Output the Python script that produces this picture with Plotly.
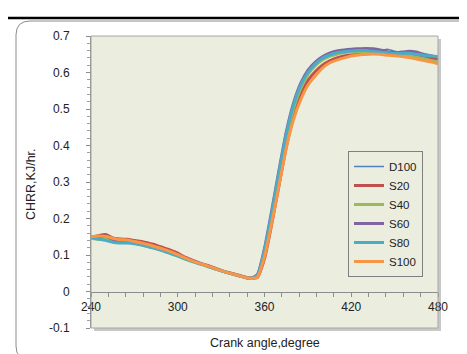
import plotly.graph_objects as go

crank_angle = list(range(240, 481, 5))

d100 = [0.150, 0.147, 0.146, 0.142, 0.138, 0.136, 0.133, 0.128, 0.124, 0.119, 0.113, 0.106, 0.099,
        0.090, 0.083, 0.077, 0.071, 0.064, 0.057, 0.051, 0.046, 0.041, 0.036, 0.045, 0.110, 0.210,
        0.320, 0.425, 0.505, 0.560, 0.597, 0.620, 0.637, 0.647, 0.653, 0.657, 0.659, 0.660, 0.661,
        0.662, 0.660, 0.664, 0.658, 0.654, 0.652, 0.650, 0.647, 0.643, 0.640]
s20 = [0.148, 0.153, 0.156, 0.147, 0.144, 0.143, 0.140, 0.137, 0.132, 0.127, 0.120, 0.113, 0.105,
       0.094, 0.086, 0.078, 0.072, 0.065, 0.058, 0.052, 0.047, 0.041, 0.037, 0.038, 0.090, 0.185,
       0.290, 0.395, 0.480, 0.540, 0.578, 0.602, 0.620, 0.632, 0.640, 0.645, 0.648, 0.650, 0.651,
       0.652, 0.652, 0.650, 0.650, 0.652, 0.651, 0.648, 0.645, 0.640, 0.635]
s40 = [0.146, 0.143, 0.148, 0.140, 0.139, 0.136, 0.132, 0.128, 0.123, 0.118, 0.112, 0.105, 0.098,
       0.090, 0.083, 0.076, 0.070, 0.063, 0.057, 0.051, 0.046, 0.040, 0.036, 0.042, 0.105, 0.205,
       0.315, 0.420, 0.500, 0.556, 0.594, 0.618, 0.634, 0.644, 0.650, 0.654, 0.656, 0.657, 0.657,
       0.656, 0.655, 0.652, 0.650, 0.648, 0.646, 0.642, 0.638, 0.633, 0.630]
s60 = [0.149, 0.150, 0.152, 0.143, 0.136, 0.134, 0.134, 0.131, 0.127, 0.121, 0.115, 0.108, 0.100,
       0.091, 0.084, 0.077, 0.071, 0.064, 0.057, 0.051, 0.046, 0.040, 0.036, 0.046, 0.118, 0.222,
       0.332, 0.436, 0.515, 0.570, 0.606, 0.628, 0.643, 0.653, 0.659, 0.662, 0.664, 0.665, 0.666,
       0.665, 0.662, 0.657, 0.654, 0.656, 0.658, 0.656, 0.650, 0.646, 0.642]
s80 = [0.147, 0.144, 0.140, 0.135, 0.133, 0.133, 0.131, 0.127, 0.122, 0.117, 0.111, 0.104, 0.097,
       0.089, 0.082, 0.076, 0.070, 0.063, 0.057, 0.051, 0.045, 0.040, 0.036, 0.044, 0.114, 0.216,
       0.326, 0.430, 0.510, 0.565, 0.600, 0.623, 0.639, 0.648, 0.654, 0.657, 0.659, 0.660, 0.660,
       0.658, 0.656, 0.654, 0.652, 0.652, 0.653, 0.650, 0.647, 0.645, 0.644]
s100 = [0.150, 0.152, 0.151, 0.146, 0.142, 0.141, 0.137, 0.133, 0.128, 0.122, 0.116, 0.109, 0.101,
        0.092, 0.084, 0.077, 0.071, 0.064, 0.057, 0.051, 0.046, 0.040, 0.036, 0.039, 0.095, 0.188,
        0.290, 0.392, 0.470, 0.525, 0.565, 0.590, 0.612, 0.626, 0.634, 0.640, 0.645, 0.648, 0.650,
        0.651, 0.650, 0.647, 0.646, 0.644, 0.641, 0.637, 0.633, 0.629, 0.624]

series_names = ["D100", "S20", "S40", "S60", "S80", "S100"]
series_values = [d100, s20, s40, s60, s80, s100]
series_colors = ["#4F81BD", "#C0504D", "#9BBB59", "#8064A2", "#4BACC6", "#F79646"]
series_widths = [1.5, 3, 3, 3, 3, 3]

x_ticks = [240, 300, 360, 420, 480]
y_ticks = [-0.1, 0, 0.1, 0.2, 0.3, 0.4, 0.5, 0.6, 0.7]
y_tick_text = ["-0.1", "0", "0.1", "0.2", "0.3", "0.4", "0.5", "0.6", "0.7"]

W, H = 467, 354
L, R, T, B = 83, 37, 28, 34
pw, ph = W - L - R, H - T - B


def px(xp):
    return (xp - L) / pw


def py(yp):
    return (H - B - yp) / ph


fig = go.Figure()
for name, vals, col, wd in zip(series_names, series_values, series_colors, series_widths):
    fig.add_trace(go.Scatter(x=crank_angle, y=vals, name=name, mode="lines",
                             line=dict(color=col, width=wd, shape="spline", smoothing=0.6)))

font = "Liberation Sans, Arial, sans-serif"
fig.update_layout(
    width=W, height=H,
    margin=dict(l=L, r=R, t=T, b=B),
    paper_bgcolor="white",
    plot_bgcolor="#EBEEDF",
    font=dict(family=font, size=11, color="#222222"),
    showlegend=True,
    legend=dict(x=px(340), y=py(143), xanchor="left", yanchor="top",
                bgcolor="#EBEEDF", bordercolor="#7F7F7F", borderwidth=1,
                font=dict(family=font, size=11.5, color="#222222"),
                itemwidth=30, tracegroupgap=0),
    xaxis=dict(range=[240, 480], tickvals=x_ticks, anchor="free", position=0.125,
               showgrid=False, zeroline=False, showline=True, linecolor="#8C8C8C", linewidth=1,
               ticks="outside", ticklen=4, tickcolor="#8C8C8C", ticklabelstandoff=0,
               minor=dict(dtick=12, ticks="outside", ticklen=4, tickcolor="#8C8C8C"),
               tickfont=dict(size=12)),
    yaxis=dict(range=[-0.1, 0.7], tickvals=y_ticks, ticktext=y_tick_text,
               showgrid=False, zeroline=False, showline=True, linecolor="#8C8C8C", linewidth=1,
               ticks="outside", ticklen=4, tickcolor="#8C8C8C", ticklabelstandoff=14,
               minor=dict(dtick=0.02, ticks="outside", ticklen=3, tickcolor="#A0A0A0"),
               tickfont=dict(size=12)),
)

shapes = []
# plot area shadow (right and bottom strips)
shapes.append(dict(type="rect", xref="paper", yref="paper", x0=1, x1=px(W - R + 3),
                   y0=py(H - B + 3), y1=py(T + 3), fillcolor="#C8C8C8", line=dict(width=0), layer="below"))
shapes.append(dict(type="rect", xref="paper", yref="paper", x0=px(L + 3), x1=px(W - R + 3),
                   y0=py(H - B + 3), y1=0, fillcolor="#C8C8C8", line=dict(width=0), layer="below"))
# plot area border
shapes.append(dict(type="rect", xref="paper", yref="paper", x0=0, x1=1, y0=0, y1=1,
                   line=dict(color="#A6A6A6", width=1), fillcolor="rgba(0,0,0,0)"))
# top black rule
shapes.append(dict(type="line", xref="paper", yref="paper", x0=px(0), x1=px(W), y0=py(10), y1=py(10),
                   line=dict(color="black", width=2.5)))
# rounded chart frame
x0, y0, x1, y1, r = px(8), py(13), px(W + 5), py(352), 14
path = (f"M {x0},{py(13 + r)} Q {x0},{y0} {px(8 + r)},{y0} L {x1},{y0} "
        f"M {x0},{py(13 + r)} L {x0},{py(352 - r)} Q {x0},{y1} {px(8 + r)},{y1} L {x1},{y1}")
shapes.append(dict(type="path", xref="paper", yref="paper", path=path,
                   line=dict(color="#8C8C8C", width=1)))
fig.update_layout(shapes=shapes)

fig.add_annotation(text="CHRR,KJ/hr.", xref="paper", yref="paper", x=px(23), y=py(176),
                   xanchor="center", yanchor="middle",
                   textangle=-90, showarrow=False, font=dict(size=12.5, color="#222222"))
fig.add_annotation(text="Crank angle,degree", xref="paper", yref="paper", x=px(257), y=py(335),
                   xanchor="center", yanchor="middle",
                   showarrow=False, font=dict(size=12.5, color="#222222"))

fig.write_html("out.html")
